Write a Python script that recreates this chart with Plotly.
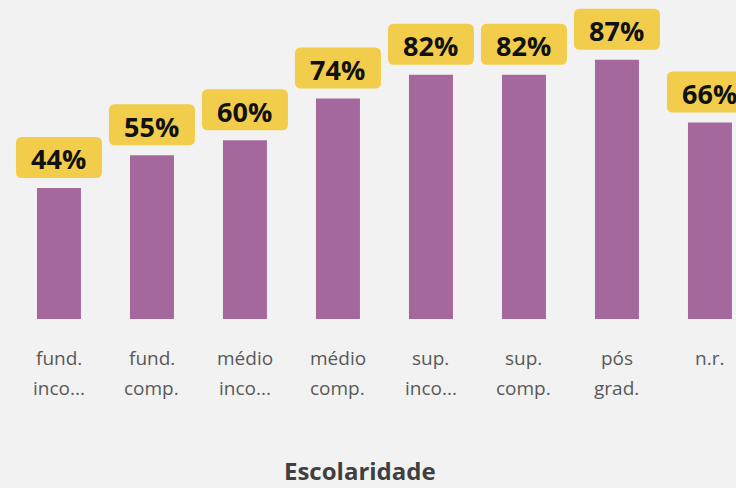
import plotly.graph_objects as go

# Escolaridade categories (two display lines each) and share values (%)
line1 = ["fund.", "fund.", "médio", "médio", "sup.", "sup.", "pós", "n.r."]
line2 = ["inco...", "comp.", "inco...", "comp.", "inco...", "comp.", "grad.", ""]
values = [44, 55, 60, 74, 82, 82, 87, 66]
axis_title = "Escolaridade"

BAR = "#a5689c"
BOX = "#f2cd4b"
BG = "#f2f2f2"
LABEL = "#595959"

xs = list(range(len(values)))

fig = go.Figure(go.Bar(
    x=xs, y=values, width=0.473,
    marker=dict(color=BAR, line=dict(width=0)),
    hoverinfo="skip",
))

def rounded_box(x0, x1, y0, y1, r):
    # rounded rectangle path in pixel units (y up)
    return (f"M {x0+r},{y0} L {x1-r},{y0} Q {x1},{y0} {x1},{y0+r} "
            f"L {x1},{y1-r} Q {x1},{y1} {x1-r},{y1} L {x0+r},{y1} "
            f"Q {x0},{y1} {x0},{y1-r} L {x0},{y0+r} Q {x0},{y0} {x0+r},{y0} Z")

shapes = []
annotations = []
for i, v in enumerate(values):
    shapes.append(dict(
        type="path", xref="x", yref="y",
        xsizemode="pixel", ysizemode="pixel", xanchor=i, yanchor=v,
        path=rounded_box(-43, 43, 10, 51, 6),
        fillcolor=BOX, line=dict(width=0), layer="above",
    ))
    annotations.append(dict(
        x=i, y=v, xref="x", yref="y", text=f"<b>{v}%</b>",
        showarrow=False, yanchor="middle", yshift=29,
        font=dict(family="Open Sans", size=27, color="#111111"),
    ))
    annotations.append(dict(
        x=i, y=0, xref="x", yref="paper", text=line1[i],
        showarrow=False, yanchor="middle", yshift=-39,
        font=dict(family="Open Sans", size=19, color=LABEL),
    ))
    if line2[i]:
        annotations.append(dict(
            x=i, y=0, xref="x", yref="paper", text=line2[i],
            showarrow=False, yanchor="middle", yshift=-69,
            font=dict(family="Open Sans", size=19, color=LABEL),
        ))

annotations.append(dict(
    x=360 / 736, y=0, xref="paper", yref="paper", text=f"<b>{axis_title}</b>",
    showarrow=False, yanchor="middle", yshift=-151,
    font=dict(family="Open Sans", size=24, color="#3f3f3f"),
))

fig.update_layout(
    width=736, height=488,
    margin=dict(l=0, r=0, t=0, b=169),
    paper_bgcolor=BG, plot_bgcolor=BG,
    showlegend=False,
    shapes=shapes, annotations=annotations,
    xaxis=dict(range=[-0.634, 7.28], showticklabels=False, showgrid=False,
               zeroline=False, showline=False, ticks=""),
    yaxis=dict(range=[0, 107.1], visible=False, showgrid=False, zeroline=False),
)

fig.write_html("out.html")
